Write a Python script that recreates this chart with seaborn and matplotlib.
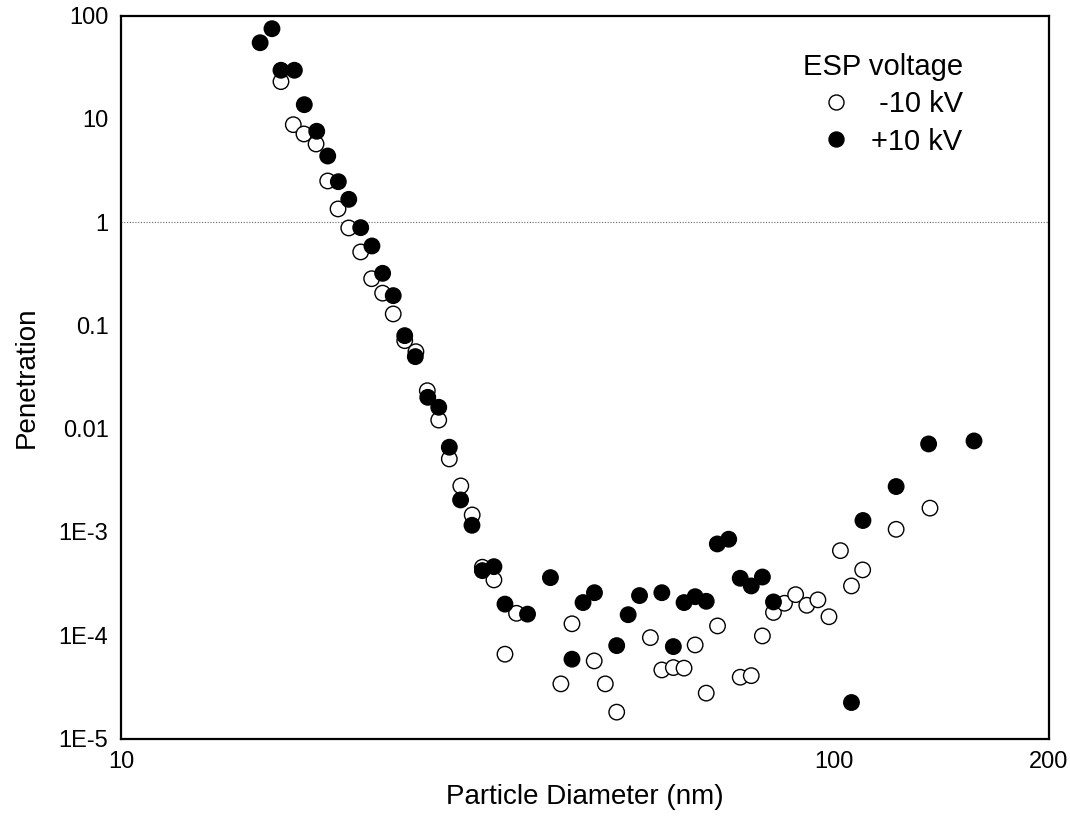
import matplotlib
matplotlib.use("Agg")
from matplotlib import pyplot as plt
from matplotlib.lines import Line2D
from matplotlib.ticker import FixedLocator, NullFormatter
import seaborn as sns
import pandas as pd

# -10 kV (open circles)
neg_diam = [16.76, 17.44, 18.05, 18.77, 19.49, 20.15, 20.86, 21.68, 22.46, 23.27,
            24.08, 24.99, 25.91, 26.88, 27.89, 28.86, 29.95, 31.07, 32.11, 33.33,
            34.54, 35.85, 41.37, 42.88, 46.07, 47.75, 49.54, 55.23, 57.31, 59.48,
            61.57, 63.82, 66.14, 68.6, 73.81, 76.49, 79.29, 82.18, 85.16, 88.27,
            91.5, 94.85, 98.3, 102.0, 105.7, 109.6, 122.1, 136.2]
neg_pen = [22.9, 8.77, 7.13, 5.70, 2.50, 1.34, 0.877, 0.514, 0.283, 0.205,
           0.129, 0.0711, 0.0556, 0.0233, 0.0121, 0.00509, 0.00279, 0.00146, 4.55e-4, 3.43e-4,
           6.55e-5, 1.63e-4, 3.38e-5, 1.29e-4, 5.64e-5, 3.38e-5, 1.80e-5, 9.48e-5, 4.61e-5, 4.86e-5,
           4.80e-5, 8.05e-5, 2.75e-5, 1.23e-4, 3.92e-5, 4.06e-5, 9.84e-5, 1.66e-4, 2.04e-4, 2.47e-4,
           1.95e-4, 2.20e-4, 1.51e-4, 6.59e-4, 3.00e-4, 4.29e-4, 1.06e-3, 1.70e-3]

# +10 kV (filled circles)
pos_diam = [15.67, 16.28, 16.76, 17.5, 18.07, 18.81, 19.49, 20.17, 20.86, 21.68,
            22.48, 23.27, 24.08, 24.99, 25.86, 26.92, 27.89, 28.86, 29.93, 31.05,
            32.11, 33.33, 34.54, 37.15, 40.0, 42.88, 44.44, 46.11, 49.54, 51.41,
            53.33, 57.31, 59.48, 61.57, 63.82, 66.14, 68.55, 71.12, 73.81, 76.49,
            79.29, 82.18, 105.7, 109.7, 122.1, 135.6, 157.0]
pos_pen = [54.5, 74.5, 29.5, 29.5, 13.7, 7.57, 4.36, 2.46, 1.66, 0.883,
           0.587, 0.319, 0.194, 0.0795, 0.0498, 0.0201, 0.0161, 0.00661, 0.00204, 0.00116,
           4.22e-4, 4.61e-4, 2.00e-4, 1.60e-4, 3.61e-4, 5.86e-5, 2.07e-4, 2.58e-4, 7.93e-5, 1.58e-4,
           2.42e-4, 2.58e-4, 7.76e-5, 2.07e-4, 2.36e-4, 2.13e-4, 7.65e-4, 8.50e-4, 3.56e-4, 3.00e-4,
           3.66e-4, 2.10e-4, 2.23e-5, 1.29e-3, 2.75e-3, 7.11e-3, 7.60e-3]

series = ["-10 kV", "+10 kV"]
y_ticks = [1e-5, 1e-4, 1e-3, 1e-2, 1e-1, 1, 10, 100]
y_labels = ["1E-5", "1E-4", "1E-3", "0.01", "0.1", "1", "10", "100"]
x_ticks = [10, 100, 200]
x_labels = ["10", "100", "200"]

df = pd.concat([
    pd.DataFrame({"diam": neg_diam, "pen": neg_pen, "voltage": series[0]}),
    pd.DataFrame({"diam": pos_diam, "pen": pos_pen, "voltage": series[1]}),
])

sns.set_style("white", rc={"text.color": "black", "axes.labelcolor": "black",
                           "xtick.color": "black", "ytick.color": "black"})
plt.rcParams["font.family"] = ["Liberation Sans", "DejaVu Sans"]

fig = plt.figure(figsize=(10.7, 8.16), dpi=100)
ax = fig.add_axes([121 / 1070, 1 - 738.5 / 816, 928 / 1070, 723 / 816])

ax.axhline(1, color="#666666", lw=0.8, ls=(0, (1, 1.5)), zorder=1)

sns.scatterplot(data=df, x="diam", y="pen", hue="voltage", hue_order=series,
                palette={series[0]: "white", series[1]: "black"},
                edgecolor="black", linewidth=1.0, s=124, legend=False, ax=ax, zorder=3)

ax.set_xscale("log")
ax.set_yscale("log")
ax.set_xlim(10, 200)
ax.set_ylim(1e-5, 100)

ax.xaxis.set_major_locator(FixedLocator(x_ticks))
ax.set_xticklabels(x_labels)
ax.xaxis.set_minor_locator(FixedLocator([20, 30, 40, 50, 60, 70, 80, 90]))
ax.xaxis.set_minor_formatter(NullFormatter())
ax.yaxis.set_major_locator(FixedLocator(y_ticks))
ax.set_yticklabels(y_labels)
ax.yaxis.set_minor_locator(FixedLocator([]))

ax.tick_params(axis="both", which="major", direction="in", length=8.5, width=1.5,
               labelsize=17, pad=9, top=False, right=False)
ax.tick_params(axis="x", which="minor", direction="in", length=5, width=1.5, top=False)
for sp in ax.spines.values():
    sp.set_linewidth(1.6)
    sp.set_color("black")

ax.set_xlabel("Particle Diameter (nm)", fontsize=20, labelpad=8)
ax.set_ylabel("Penetration", fontsize=20, labelpad=14)

handles = [
    Line2D([], [], ls="none", marker="o", markersize=10.8, markerfacecolor="white",
           markeredgecolor="black", markeredgewidth=1.0),
    Line2D([], [], ls="none", marker="o", markersize=10.8, markerfacecolor="black",
           markeredgecolor="black"),
]
leg = ax.legend(handles, [" " + series[0], series[1]], title="ESP voltage",
                loc="upper left", bbox_to_anchor=(803 / 1070, 1 - 53 / 816),
                bbox_transform=fig.transFigure, frameon=False, fontsize=21,
                title_fontsize=21, handlelength=1.0, handletextpad=0.7,
                labelspacing=0.32, borderpad=0, borderaxespad=0, alignment="right")

fig.savefig("out.png", dpi=100)
